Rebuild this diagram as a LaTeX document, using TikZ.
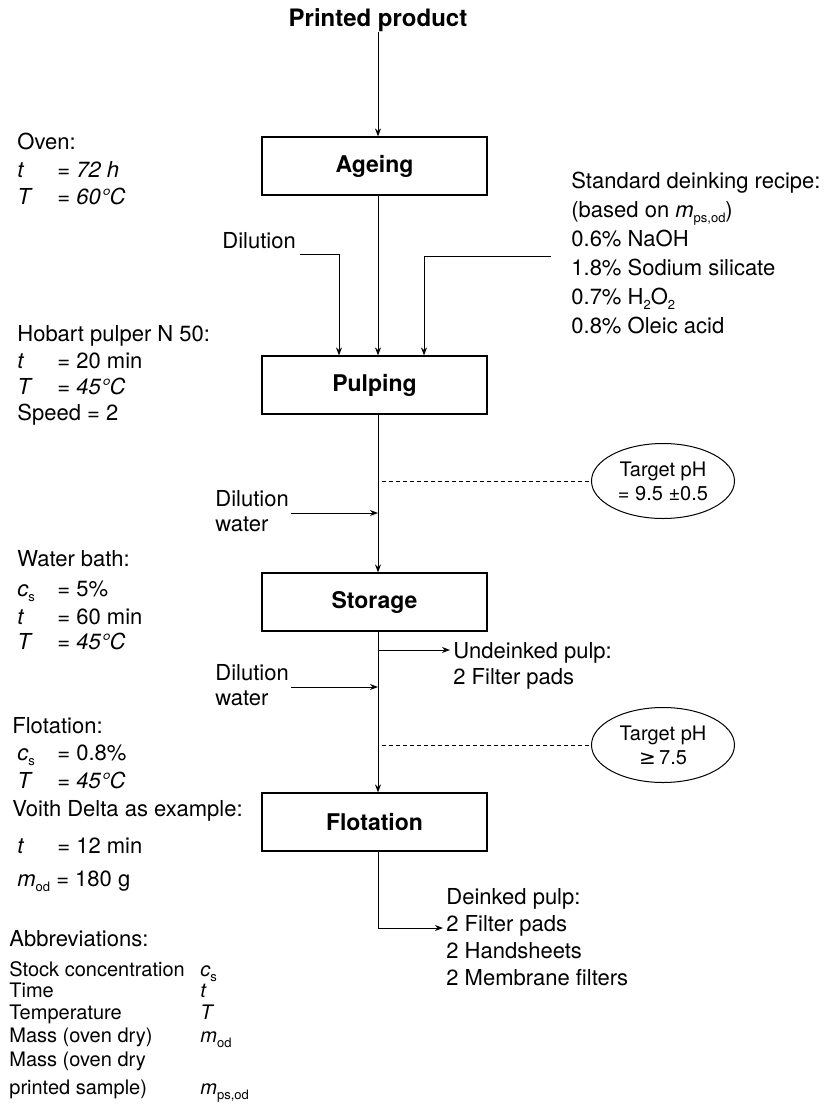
\documentclass[tikz,border=0pt]{standalone}
\usepackage{fontspec}
\setmainfont{TeX Gyre Heros}
\newfontfamily\symfont{DejaVu Sans}
\usetikzlibrary{arrows.meta,calc,shapes.geometric}

% small lowered subscript, symbol with subscript, and a parameter row with a tab
\newcommand{\lowsub}[1]{\raisebox{-2.5pt}{\fontsize{6.5}{7}\selectfont\upshape#1}}
\newcommand{\qsym}[2]{\textit{#1}\lowsub{#2}}
\newcommand{\prow}[2]{\makebox[20pt][l]{#1}#2}

\begin{document}
\begin{tikzpicture}[
    x=0.5pt, y=-0.5pt, >={Stealth[length=4pt,width=3pt]},
    every node/.style={font=\fontsize{11}{13}\selectfont, inner sep=0pt},
    procbox/.style={draw, line width=0.6pt, minimum width=112.5pt, minimum height=29pt,
      font=\fontsize{11.5}{13}\selectfont\bfseries},
    flow/.style={->, line width=0.5pt},
    txt/.style={anchor=base west},
    abbtxt/.style={anchor=base west, font=\fontsize{10}{12}\selectfont},
    target/.style={ellipse, draw, line width=0.5pt, minimum width=71.5pt, minimum height=37.5pt,
      align=center, font=\fontsize{10}{12}\selectfont},
    probe/.style={line width=0.4pt, dash pattern=on 2pt off 1.5pt},
  ]
  \useasboundingbox (0,0) rectangle (830,1104);

  % --- process chain ---
  \coordinate (axis) at (378,0);
  \node[anchor=base, font=\fontsize{12}{14}\selectfont\bfseries] (prod) at (378,26) {Printed product};
  \node[procbox] (ageing) at (374.5,166) {Ageing};
  \node[procbox] (pulping) at (374.5,385) {Pulping};
  \node[procbox] (storage) at (374.5,602) {Storage};
  \node[procbox] (flotation) at (374.5,822) {Flotation};

  \draw[flow] (prod.south -| axis) -- (ageing.north -| axis);
  \draw[flow] (ageing.south -| axis) -- (pulping.north -| axis);
  \draw[flow] (pulping.south -| axis) -- (storage.north -| axis);
  \draw[flow] (storage.south -| axis) -- (flotation.north -| axis);

  % --- conditions (left) ---
  \node[txt] (oven) at (17,149) {Oven:};
  \node[txt] (oven1) at (17,177) {\itshape\prow{t}{= 72 h}};
  \node[txt] (oven2) at (17,204) {\itshape\prow{T}{= 60°C}};

  \node[txt] (hob) at (17,341) {Hobart pulper N 50:};
  \node[txt] (hob1) at (17,368) {\prow{\textit{t}}{= 20 min}};
  \node[txt] (hob2) at (17,394) {\prow{\textit{T}}{\itshape = 45°C}};
  \node[txt] (hob3) at (17,420) {Speed = 2};

  \node[txt] (bath) at (17,566) {Water bath:};
  \node[txt] (bath1) at (17,596) {\prow{\qsym{c}{s}}{= 5\%}};
  \node[txt] (bath2) at (17,624) {\prow{\textit{t}}{= 60 min}};
  \node[txt] (bath3) at (17,649) {\prow{\textit{T}}{\itshape = 45°C}};

  \node[txt] (flot) at (12,733) {Flotation:};
  \node[txt] (flot1) at (12,760) {\hspace{2.5pt}\prow{\qsym{c}{s}}{= 0.8\%}};
  \node[txt] (flot2) at (12,788) {\hspace{2.5pt}\prow{\textit{T}}{\itshape = 45°C}};
  \node[txt] (flot3) at (12,816) {Voith Delta as example:};
  \node[txt] (flot4) at (12,853) {\hspace{2.5pt}\prow{\textit{t}}{= 12 min}};
  \node[txt] (flot5) at (12,886) {\hspace{2.5pt}\qsym{m}{od} = 180 g};

  % --- deinking recipe (right) ---
  \foreach \txt [count=\i] in {Standard deinking recipe:, {(based on \qsym{m}{ps,od})},
      0.6\% NaOH, 1.8\% Sodium silicate, 0.7\% H\lowsub{2}O\lowsub{2},
      0.8\% Oleic acid}{
    \node[txt] (rec\i) at (571,159+29*\i) {\txt};
  }

  % --- feeds into pulping ---
  \node[txt] (dil) at (222,248) {Dilution};
  \coordinate (lfeed) at (339,0);
  \coordinate (rfeed) at (424,0);
  \coordinate (recin) at (551,256);
  \draw[flow] ([xshift=2pt,yshift=-3pt]dil.base east) -| (pulping.north -| lfeed);
  \draw[flow] (recin) -| (pulping.north -| rfeed);

  % --- dilution water and pH checks ---
  \node[txt] (dwa) at (215,506) {Dilution};
  \node[txt] (dwb) at (215,531) {water};
  \path ([xshift=1pt,yshift=-3.5pt]dwa.base east) coordinate (dwin);
  \draw[flow] (dwin) -- (dwin -| axis);

  \node[txt] (dwc) at (215,680) {Dilution};
  \node[txt] (dwd) at (215,705) {water};
  \path ([xshift=1pt,yshift=-3.5pt]dwc.base east) coordinate (dwin2);
  \draw[flow] (dwin2) -- (dwin2 -| axis);

  \node[target] (ph1) at (663,481) {Target pH\\= 9.5 ±0.5};
  \node[target] (ph2) at (663,745) {Target pH\\{\symfont ≥}\,7.5};
  \coordinate (tap1) at (382,481);
  \coordinate (tap2) at (382,745);
  \draw[probe] (tap1) -- (ph1.west);
  \draw[probe] (tap2) -- (ph2.west);

  % --- samples taken ---
  \node[txt] (und) at (453,658) {Undeinked pulp:};
  \node[txt] (und1) at (453,684) {2 Filter pads};
  \path ([xshift=-1.5pt,yshift=4pt]und.base west) coordinate (undin);
  \draw[flow] (undin -| axis) -- (undin);

  \node[txt] (dei) at (446,904) {Deinked pulp:};
  \node[txt] (dei1) at (446,931) {2 Filter pads};
  \node[txt] (dei2) at (446,958) {2 Handsheets};
  \node[txt] (dei3) at (446,985) {2 Membrane filters};
  \path ([xshift=-1.5pt,yshift=1.5pt]dei1.base west) coordinate (deiin);
  \draw[flow] (flotation.south -| axis) |- (deiin);

  % --- abbreviations ---
  \node[txt] (abb) at (9,946) {Abbreviations:};
  \foreach \lab/\sy/\yy [count=\i] in {Stock concentration/\qsym{c}{s}/976, Time/\textit{t}/997,
      Temperature/\textit{T}/1019, Mass (oven dry)/\qsym{m}{od}/1042}{
    \node[abbtxt] (abb\i) at (9,\yy) {\lab};
    \node[abbtxt] (abbs\i) at (200,\yy) {\sy};
  }
  \node[abbtxt] (abb5) at (9,1066) {Mass (oven dry};
  \node[abbtxt] (abb6) at (9,1094) {printed sample)};
  \node[abbtxt] (abbs6) at (200,1094) {\qsym{m}{ps,od}};
\end{tikzpicture}
\end{document}
